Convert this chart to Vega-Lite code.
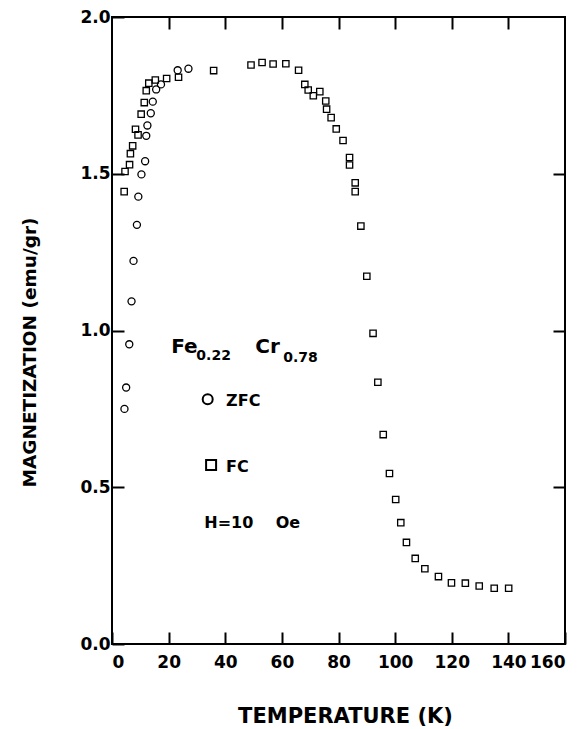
{
  "$schema": "https://vega.github.io/schema/vega-lite/v6.json",
  "width": 453,
  "height": 627,
  "autosize": {"type": "none"},
  "padding": {"left": 112, "top": 17, "right": 20, "bottom": 85},
  "background": "white",
  "config": {
    "view": {"stroke": "black", "strokeWidth": 2},
    "font": "DejaVu Sans",
    "axis": {
      "domain": false,
      "grid": false,
      "labelFont": "DejaVu Sans",
      "labelFontWeight": "bold",
      "labelFontSize": 17,
      "labelColor": "black",
      "titleFont": "DejaVu Sans",
      "titleFontWeight": "bold",
      "titleColor": "black"
    }
  },
  "datasets": {
    "magnetization": [
      {"T": 4.4, "M": 0.750, "run": "ZFC"},
      {"T": 5.0, "M": 0.818, "run": "ZFC"},
      {"T": 6.1, "M": 0.956, "run": "ZFC"},
      {"T": 6.9, "M": 1.093, "run": "ZFC"},
      {"T": 7.6, "M": 1.222, "run": "ZFC"},
      {"T": 8.8, "M": 1.337, "run": "ZFC"},
      {"T": 9.3, "M": 1.427, "run": "ZFC"},
      {"T": 10.4, "M": 1.498, "run": "ZFC"},
      {"T": 11.7, "M": 1.540, "run": "ZFC"},
      {"T": 12.1, "M": 1.621, "run": "ZFC"},
      {"T": 12.5, "M": 1.654, "run": "ZFC"},
      {"T": 13.7, "M": 1.693, "run": "ZFC"},
      {"T": 14.4, "M": 1.730, "run": "ZFC"},
      {"T": 15.6, "M": 1.769, "run": "ZFC"},
      {"T": 17.3, "M": 1.785, "run": "ZFC"},
      {"T": 23.2, "M": 1.830, "run": "ZFC"},
      {"T": 27.0, "M": 1.835, "run": "ZFC"},
      {"T": 4.3, "M": 1.443, "run": "FC"},
      {"T": 4.6, "M": 1.507, "run": "FC"},
      {"T": 6.2, "M": 1.529, "run": "FC"},
      {"T": 6.5, "M": 1.564, "run": "FC"},
      {"T": 7.3, "M": 1.589, "run": "FC"},
      {"T": 8.3, "M": 1.642, "run": "FC"},
      {"T": 9.2, "M": 1.624, "run": "FC"},
      {"T": 10.3, "M": 1.690, "run": "FC"},
      {"T": 11.4, "M": 1.727, "run": "FC"},
      {"T": 12.1, "M": 1.765, "run": "FC"},
      {"T": 13.0, "M": 1.789, "run": "FC"},
      {"T": 15.3, "M": 1.799, "run": "FC"},
      {"T": 19.3, "M": 1.804, "run": "FC"},
      {"T": 23.5, "M": 1.808, "run": "FC"},
      {"T": 35.9, "M": 1.829, "run": "FC"},
      {"T": 49.1, "M": 1.847, "run": "FC"},
      {"T": 53.0, "M": 1.855, "run": "FC"},
      {"T": 56.9, "M": 1.850, "run": "FC"},
      {"T": 61.4, "M": 1.851, "run": "FC"},
      {"T": 65.9, "M": 1.830, "run": "FC"},
      {"T": 68.1, "M": 1.785, "run": "FC"},
      {"T": 69.3, "M": 1.767, "run": "FC"},
      {"T": 71.1, "M": 1.749, "run": "FC"},
      {"T": 73.4, "M": 1.762, "run": "FC"},
      {"T": 75.5, "M": 1.732, "run": "FC"},
      {"T": 75.8, "M": 1.706, "run": "FC"},
      {"T": 77.4, "M": 1.679, "run": "FC"},
      {"T": 79.2, "M": 1.643, "run": "FC"},
      {"T": 81.6, "M": 1.606, "run": "FC"},
      {"T": 83.9, "M": 1.552, "run": "FC"},
      {"T": 83.9, "M": 1.528, "run": "FC"},
      {"T": 85.9, "M": 1.471, "run": "FC"},
      {"T": 85.9, "M": 1.443, "run": "FC"},
      {"T": 87.9, "M": 1.333, "run": "FC"},
      {"T": 90.0, "M": 1.173, "run": "FC"},
      {"T": 92.2, "M": 0.991, "run": "FC"},
      {"T": 93.9, "M": 0.835, "run": "FC"},
      {"T": 95.8, "M": 0.668, "run": "FC"},
      {"T": 98.0, "M": 0.544, "run": "FC"},
      {"T": 100.2, "M": 0.461, "run": "FC"},
      {"T": 102.0, "M": 0.387, "run": "FC"},
      {"T": 104.0, "M": 0.324, "run": "FC"},
      {"T": 107.1, "M": 0.273, "run": "FC"},
      {"T": 110.5, "M": 0.240, "run": "FC"},
      {"T": 115.3, "M": 0.215, "run": "FC"},
      {"T": 119.9, "M": 0.195, "run": "FC"},
      {"T": 124.8, "M": 0.194, "run": "FC"},
      {"T": 129.7, "M": 0.185, "run": "FC"},
      {"T": 135.0, "M": 0.178, "run": "FC"},
      {"T": 140.1, "M": 0.178, "run": "FC"}
    ],
    "formula": [
      {"T": 20.9, "M": 0.928, "text": "Fe"},
      {"T": 50.6, "M": 0.928, "text": "Cr"}
    ],
    "subscripts": [
      {"T": 29.8, "M": 0.906, "text": "0.22"},
      {"T": 60.5, "M": 0.900, "text": "0.78"}
    ],
    "keyLabels": [
      {"T": 40.3, "M": 0.760, "text": "ZFC"},
      {"T": 40.3, "M": 0.549, "text": "FC"},
      {"T": 32.6, "M": 0.369, "text": "H=10\u00a0\u00a0\u00a0\u00a0Oe"}
    ],
    "keySymbols": [
      {"T": 33.8, "M": 0.781, "run": "ZFC"},
      {"T": 35.0, "M": 0.571, "run": "FC"}
    ]
  },
  "layer": [
    {
      "data": {"name": "magnetization"},
      "mark": {"type": "point", "filled": false, "stroke": "black", "strokeWidth": 1.3, "opacity": 1},
      "encoding": {
        "x": {
          "field": "T", "type": "quantitative",
          "scale": {"domain": [0, 160], "nice": false, "zero": false},
          "axis": {
            "orient": "bottom",
            "values": [0, 20, 40, 60, 80, 100, 120, 140, 160],
            "tickColor": "black", "tickWidth": 2, "tickSize": 12, "offset": -12,
            "labelPadding": 10,
            "title": "TEMPERATURE (K)",
            "titleFontSize": 21,
            "titlePadding": 35,
            "titleX": 233
          }
        },
        "y": {
          "field": "M", "type": "quantitative",
          "scale": {"domain": [0, 2], "nice": false, "zero": false},
          "axis": {
            "orient": "left",
            "values": [0, 0.5, 1, 1.5, 2],
            "format": ".1f",
            "tickColor": "black", "tickWidth": 2, "tickSize": 12, "offset": -12,
            "labelPadding": 2,
            "title": "MAGNETIZATION (emu/gr)",
            "titleFontSize": 18.5,
            "titlePadding": 40,
            "titleY": 335
          }
        },
        "shape": {
          "field": "run", "type": "nominal",
          "scale": {"domain": ["ZFC", "FC"], "range": ["circle", "square"]},
          "legend": null
        },
        "size": {
          "field": "run", "type": "nominal",
          "scale": {"domain": ["ZFC", "FC"], "range": [50, 40]},
          "legend": null
        }
      }
    },
    {
      "data": {"name": "keySymbols"},
      "mark": {"type": "point", "filled": false, "stroke": "black", "strokeWidth": 2, "size": 100, "opacity": 1},
      "encoding": {
        "x": {
          "field": "T", "type": "quantitative",
          "axis": {
            "orient": "top", "values": [20, 40, 60, 80, 100, 120, 140],
            "tickColor": "black", "tickWidth": 2, "tickSize": 12, "offset": -12,
            "labels": false, "title": null
          }
        },
        "y": {
          "field": "M", "type": "quantitative",
          "axis": {
            "orient": "right", "values": [0.5, 1, 1.5],
            "tickColor": "black", "tickWidth": 2, "tickSize": 12, "offset": -12,
            "labels": false, "title": null
          }
        },
        "shape": {
          "field": "run", "type": "nominal",
          "scale": {"domain": ["ZFC", "FC"], "range": ["circle", "square"]},
          "legend": null
        }
      }
    },
    {
      "data": {"name": "formula"},
      "mark": {"type": "text", "align": "left", "baseline": "alphabetic", "fontSize": 20, "fontWeight": "bold", "color": "black"},
      "encoding": {
        "x": {"field": "T", "type": "quantitative", "axis": null},
        "y": {"field": "M", "type": "quantitative", "axis": null},
        "text": {"field": "text"}
      }
    },
    {
      "data": {"name": "subscripts"},
      "mark": {"type": "text", "align": "left", "baseline": "alphabetic", "fontSize": 14, "fontWeight": "bold", "color": "black"},
      "encoding": {
        "x": {"field": "T", "type": "quantitative", "axis": null},
        "y": {"field": "M", "type": "quantitative", "axis": null},
        "text": {"field": "text"}
      }
    },
    {
      "data": {"name": "keyLabels"},
      "mark": {"type": "text", "align": "left", "baseline": "alphabetic", "fontSize": 16, "fontWeight": "bold", "color": "black"},
      "encoding": {
        "x": {"field": "T", "type": "quantitative", "axis": null},
        "y": {"field": "M", "type": "quantitative", "axis": null},
        "text": {"field": "text"}
      }
    }
  ]
}
